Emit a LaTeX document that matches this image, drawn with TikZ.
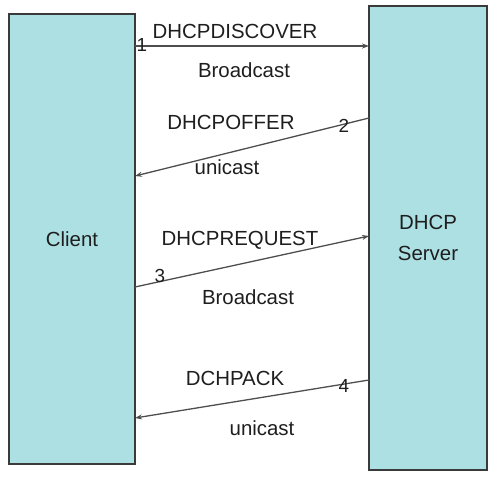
\documentclass[tikz,border=0pt]{standalone}
\usepackage{fontspec}
\setmainfont{Liberation Sans}
\usetikzlibrary{arrows.meta}
\definecolor{boxfill}{HTML}{ADE0E3}
\definecolor{boxline}{HTML}{3A3A3A}
\definecolor{txt}{HTML}{1E1E1E}
\begin{document}
\begin{tikzpicture}[x=1bp,y=-1bp,
  party/.style={draw=boxline,line width=1.4bp,fill=boxfill,inner sep=0pt,
    font=\fontsize{20.5}{31}\selectfont,text=txt,align=center},
  msg/.style={draw=boxline!90,line width=1.3bp,-{Stealth[length=7bp,width=5bp]}},
  lbl/.style={font=\fontsize{20.5}{24}\selectfont,text=txt,inner sep=0pt},
  num/.style={font=\fontsize{19}{22}\selectfont,text=txt,inner sep=0pt}]
\useasboundingbox (0,0) rectangle (500,478);
\node[party,minimum width=126bp,minimum height=450bp] (client) at (72,239) {Client};
\node[party,minimum width=118bp,minimum height=464bp] (server) at (428,238) {DHCP\\Server};
\coordinate (c1) at (135,46);  \coordinate (s1) at (369,46);
\coordinate (s2) at (369,118); \coordinate (c2) at (135,176);
\coordinate (c3) at (135,287); \coordinate (s3) at (369,236);
\coordinate (s4) at (369,380); \coordinate (c4) at (135,418);
\draw[msg] (c1) -- (s1);
\draw[msg] (s2) -- (c2);
\draw[msg] (c3) -- (s3);
\draw[msg] (s4) -- (c4);
\node[lbl] (t1) at (235,31) {DHCPDISCOVER};
\node[lbl] (b1) at (244,70) {Broadcast};
\node[num] (n1) at (142,45) {1};
\node[lbl] (t2) at (231,122) {DHCPOFFER};
\node[lbl] (b2) at (227,167) {unicast};
\node[num] (n2) at (344,126) {2};
\node[lbl] (t3) at (240,240) {DHCPREQUEST};
\node[lbl] (b3) at (248,297) {Broadcast};
\node[num] (n3) at (160,276) {3};
\node[lbl] (t4) at (235,378) {DCHPACK};
\node[lbl] (b4) at (262,428) {unicast};
\node[num] (n4) at (344,386) {4};
\end{tikzpicture}
\end{document}
